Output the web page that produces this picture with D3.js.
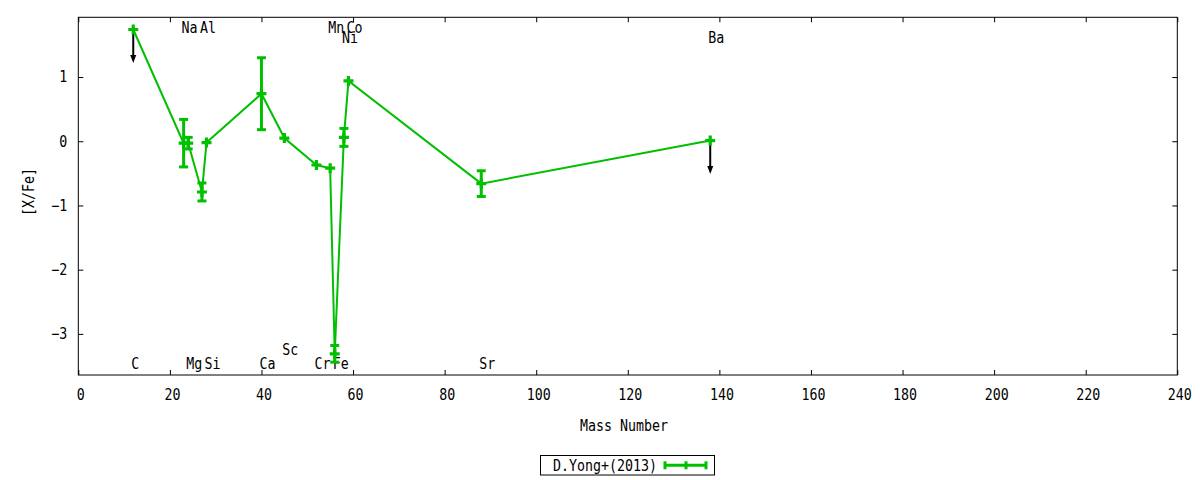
<!DOCTYPE html>
<html>
<head>
<meta charset="utf-8">
<script src="https://cdn.jsdelivr.net/npm/d3@7"></script>
<style>
  body { margin: 0; background: #fff; }
  text { font-family: "DejaVu Sans Mono", "Liberation Mono", monospace; font-size: 15px; fill: #000; }
</style>
</head>
<body>
<div id="chart"></div>
<script>
// abundance pattern, one entry per element
const elements = ["C", "Na", "Mg", "Al", "Si", "Ca", "Sc", "Cr", "Mn", "Fe", "Ni", "Co", "Sr", "Ba"];
const massNumbers = [12, 23, 24, 27, 28, 40, 45, 52, 55, 56, 58, 59, 88, 138];
const xFe = [1.74, -0.03, -0.03, -0.79, -0.02, 0.74, 0.05, -0.37, -0.42, -3.31, 0.06, 0.94, -0.66, 0.01];
const xFeErr = [0, 0.37, 0.09, 0.14, 0, 0.56, 0, 0, 0, 0.13, 0.14, 0, 0.2, 0];
const upperLimit = [true, false, false, false, false, false, false, false, false, false, false, false, false, true];
const labelTier = ["bottom", "top", "bottom", "top", "bottom", "bottom", "low", "bottom", "top", "bottom", "mid", "top", "bottom", "mid"];
const xTicks = [0, 20, 40, 60, 80, 100, 120, 140, 160, 180, 200, 220, 240];
const yTicks = [-3, -2, -1, 0, 1];
const seriesName = "D.Yong+(2013)";

function drawChart() {
    const width = 1200, height = 480;
    const left = 78.3, right = 1177.3, top = 17.3, bottom = 375;
    const green = "#00c000";
    const charW = 8;

    const svg = d3.select("#chart").append("svg").attr("width", width).attr("height", height);
    const x = d3.scaleLinear().domain([0, 240]).range([left, right]);
    const y = d3.scaleLinear().domain([-3.64, 1.93]).range([bottom, top]);

    // squeeze text to the narrow look of the original
    const fit = sel => sel.attr("textLength", function() { return this.textContent.length * charW; })
        .attr("lengthAdjust", "spacingAndGlyphs");

    const xAxis = svg.append("g").attr("transform", `translate(0,${bottom})`)
        .call(d3.axisBottom(x).tickValues(xTicks).tickSize(-5).tickSizeOuter(0).tickPadding(14));
    const yAxis = svg.append("g").attr("transform", `translate(${left},0)`)
        .call(d3.axisLeft(y).tickValues(yTicks).tickSize(-5).tickSizeOuter(0).tickPadding(11).tickFormat(d3.format("d")));
    svg.append("g").attr("transform", `translate(0,${top})`)
        .call(d3.axisTop(x).tickValues(xTicks).tickSize(-5).tickSizeOuter(0).tickFormat(""));
    svg.append("g").attr("transform", `translate(${right},0)`)
        .call(d3.axisRight(y).tickValues(yTicks).tickSize(-5).tickSizeOuter(0).tickFormat(""));
    svg.selectAll(".domain").remove();
    svg.selectAll(".tick line").attr("stroke", "#000");
    xAxis.selectAll("text").attr("dx", 2).call(fit);
    yAxis.selectAll("text").call(fit);
    svg.selectAll(".tick text").attr("font-family", null).attr("font-size", null);

    svg.append("rect").attr("x", left).attr("y", top).attr("width", right - left).attr("height", bottom - top)
        .attr("fill", "none").attr("stroke", "#000").attr("stroke-width", 1);

    svg.append("text").attr("x", 624).attr("y", 426).attr("dy", "0.35em").attr("text-anchor", "middle")
        .text("Mass Number").call(fit);
    svg.append("text").attr("transform", "translate(29,192) rotate(-90)").attr("dy", "0.35em").attr("text-anchor", "middle")
        .text("[X/Fe]").call(fit);

    const data = elements.map((el, i) => ({
        el, mass: massNumbers[i], val: xFe[i], err: xFeErr[i], ul: upperLimit[i], tier: labelTier[i]
    }));

    // element labels
    const tierY = { top: 1.765, mid: 1.61, low: -3.25, bottom: -3.47 };
    svg.append("g").selectAll("text").data(data).join("text")
        .attr("x", d => x(d.mass) - 2).attr("y", d => y(tierY[d.tier])).attr("dy", "0.35em")
        .text(d => d.el).call(fit);

    // upper limit arrows
    const arrows = svg.append("g");
    data.filter(d => d.ul).forEach(d => {
        const px = x(d.mass), y0 = y(d.val), y1 = y(d.val - 0.52);
        arrows.append("line").attr("x1", px).attr("x2", px).attr("y1", y0).attr("y2", y1 - 6)
            .attr("stroke", "#000").attr("stroke-width", 2);
        arrows.append("path").attr("d", `M${px - 3},${y1 - 8}L${px + 3},${y1 - 8}L${px},${y1}Z`).attr("fill", "#000");
    });

    const line = d3.line().x(d => x(d.mass)).y(d => y(d.val));
    svg.append("path").datum(data).attr("d", line).attr("fill", "none").attr("stroke", green).attr("stroke-width", 2);

    // error bars
    const eb = svg.append("g").attr("stroke", green).attr("stroke-width", 3);
    data.filter(d => d.err > 0).forEach(d => {
        const px = x(d.mass);
        eb.append("line").attr("x1", px).attr("x2", px).attr("y1", y(d.val + d.err)).attr("y2", y(d.val - d.err));
        [d.val + d.err, d.val - d.err].forEach(v => {
            eb.append("line").attr("x1", px - 4.5).attr("x2", px + 4.5).attr("y1", y(v)).attr("y2", y(v));
        });
    });

    // plus markers
    const pts = svg.append("g").attr("stroke", green).attr("stroke-width", 3.2);
    data.forEach(d => {
        const px = x(d.mass), py = y(d.val);
        pts.append("path").attr("d", `M${px - 5},${py}H${px + 5}M${px},${py - 5}V${py + 5}`);
    });

    // legend
    const lg = svg.append("g");
    lg.append("rect").attr("x", 540.5).attr("y", 455.5).attr("width", 174).attr("height", 19.5)
        .attr("fill", "none").attr("stroke", "#000").attr("stroke-width", 1);
    lg.append("text").attr("x", 553).attr("y", 465.5).attr("dy", "0.35em").text(seriesName).call(fit);
    const ly = 465.3;
    lg.append("line").attr("x1", 664).attr("x2", 707).attr("y1", ly).attr("y2", ly)
        .attr("stroke", green).attr("stroke-width", 3);
    [665, 686, 706].forEach(px => {
        lg.append("line").attr("x1", px).attr("x2", px).attr("y1", ly - 4).attr("y2", ly + 4)
            .attr("stroke", green).attr("stroke-width", 3);
    });
}

document.addEventListener("DOMContentLoaded", () => {
    drawChart();
});
</script>
</body>
</html>
